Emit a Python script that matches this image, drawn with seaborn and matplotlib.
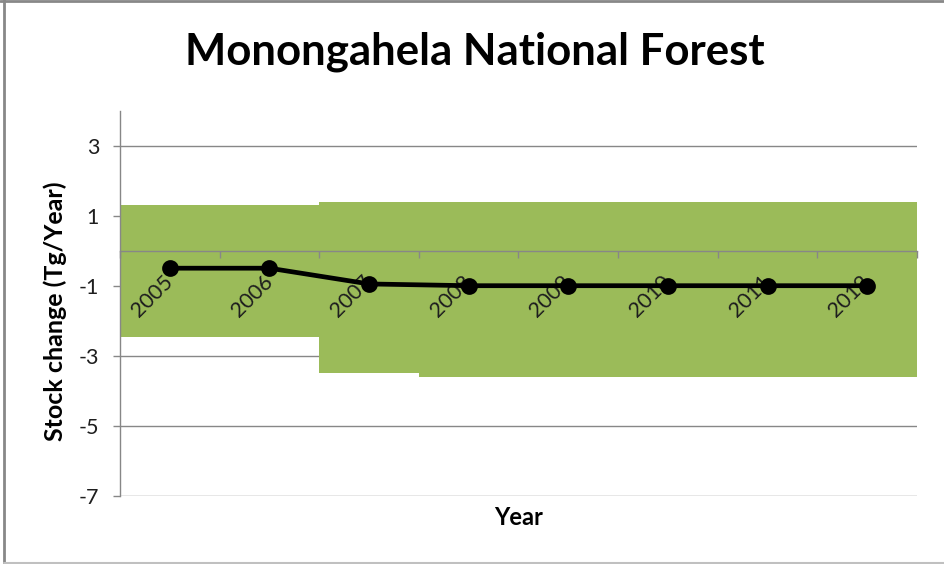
import matplotlib
matplotlib.use("Agg")
import numpy as np
import pandas as pd
import matplotlib.pyplot as plt
from matplotlib.lines import Line2D
import seaborn as sns

# Annual carbon stock change with its uncertainty range
years = ["2005", "2006", "2007", "2008", "2009", "2010", "2011", "2012"]
stock_change = [-0.5, -0.5, -0.95, -1.0, -1.0, -1.0, -1.0, -1.0]
upper_bound = [1.3, 1.3, 1.4, 1.4, 1.4, 1.4, 1.4, 1.4]
lower_bound = [-2.47, -2.47, -3.5, -3.62, -3.62, -3.62, -3.62, -3.62]
y_ticks = [-7, -5, -3, -1, 1, 3]
y_tick_labels = ["-7", "-5", "-3", "-1", "1", "3"]

sns.set_theme(style="white")
plt.rcParams["font.family"] = ["Lato", "DejaVu Sans"]

df = pd.DataFrame({"Year": years, "Stock": stock_change,
                   "Lower": lower_bound, "Upper": upper_bound})
df["Range"] = df["Upper"] - df["Lower"]

W, H = 945, 564
fig = plt.figure(figsize=(W / 100, H / 100), dpi=100)
ax = fig.add_axes([120 / W, 1 - 495.7 / H, 797 / W, 385 / H])

GRID = "#878787"
TEXT = "#1e1e1e"
TICK_FS = 15.5

# Uncertainty band as floating bars
sns.barplot(data=df, x="Year", y="Range", bottom=df["Lower"].to_numpy(),
            color="#9BBB59", saturation=1, width=1.0, linewidth=0,
            errorbar=None, ax=ax, zorder=1)

# Stock change line
sns.pointplot(data=df, x="Year", y="Stock", color="black", markers="o",
              markersize=9.5, linewidth=3.4, errorbar=None, ax=ax, zorder=5)

ax.set_xlim(-0.5, len(years) - 0.5)
ax.set_ylim(-7, 4)
ax.set_xlabel("")
ax.set_ylabel("")

ax.yaxis.grid(True, color=GRID, linewidth=1.0)
ax.xaxis.grid(False)
ax.set_axisbelow(True)
ax.xaxis.set_zorder(2.5)

for side in ("top", "right"):
    ax.spines[side].set_visible(False)
ax.spines["left"].set_color(GRID)
ax.spines["left"].set_linewidth(1.0)
ax.spines["bottom"].set_position(("data", 0))
ax.spines["bottom"].set_color(GRID)
ax.spines["bottom"].set_linewidth(1.0)
ax.spines["bottom"].set_zorder(2.5)

ax.tick_params(axis="y", which="major", direction="out", length=5, width=1,
               color=GRID, pad=10, left=True)
ax.set_yticks(y_ticks)
ax.set_yticklabels(y_tick_labels, fontsize=TICK_FS, color=TEXT)

ax.tick_params(axis="x", which="major", length=0, pad=20, bottom=True)
ax.tick_params(axis="x", which="minor", direction="out", length=5, width=1,
               color=GRID, bottom=True)
ax.set_xticks(range(len(years)))
ax.set_xticks(np.arange(-0.5, len(years), 1.0), minor=True)
ax.set_xticklabels(years, fontsize=TICK_FS, color=TEXT, rotation=45,
                   ha="right", va="center", rotation_mode="anchor")

fig.text(475 / W, 1 - 65 / H, "Monongahela National Forest", ha="center",
         va="baseline", fontsize=31.5, fontweight="bold", color="black")
fig.text(55 / W, 1 - 311 / H, "Stock change (Tg/Year)", ha="center",
         va="center", rotation=90, fontsize=18, fontweight="bold", color="black")
fig.text(519 / W, 1 - 525 / H, "Year", ha="center", va="baseline",
         fontsize=17, fontweight="bold", color="black")

# Chart-area frame
fig.add_artist(Line2D([4 / W, 4 / W], [1 - 562.5 / H, 1], transform=fig.transFigure,
                      color="#888888", linewidth=2))
fig.add_artist(Line2D([0, 1], [1 - 1 / H, 1 - 1 / H], transform=fig.transFigure,
                      color="#888888", linewidth=2))
fig.add_artist(Line2D([4 / W, 1], [1 - 562.5 / H, 1 - 562.5 / H],
                      transform=fig.transFigure, color="#c0c0c0", linewidth=1.5))

fig.savefig("out.png", dpi=100)
